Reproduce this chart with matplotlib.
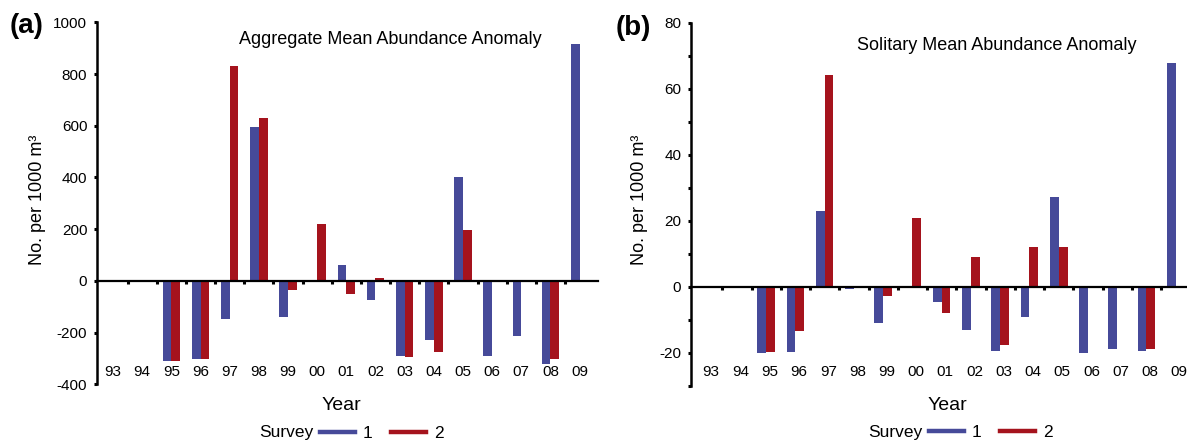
import matplotlib
matplotlib.use("Agg")
import matplotlib.pyplot as plt
import numpy as np
from matplotlib.lines import Line2D
from matplotlib.transforms import blended_transform_factory

plt.rcParams["font.family"] = ["Liberation Sans", "DejaVu Sans"]
plt.rcParams["axes.unicode_minus"] = False

nan = np.nan

# Survey years (two-digit labels)
years = ["93", "94", "95", "96", "97", "98", "99", "00", "01",
         "02", "03", "04", "05", "06", "07", "08", "09"]

# Aggregate mean abundance anomaly (No. per 1000 m3)
agg_survey1 = [nan, nan, -308, -304, -148, 595, -140, nan, 60,
               -73, -290, -228, 403, -290, -214, -322, 918]
agg_survey2 = [nan, nan, -308, -304, 830, 630, -37, 220, -51,
               10, -293, -275, 197, nan, nan, -304, nan]

# Solitary mean abundance anomaly (No. per 1000 m3)
sol_survey1 = [nan, nan, -20.1, -19.8, 23.0, -0.6, -11.0, nan, -4.6,
               -13.1, -19.4, -9.2, 27.2, -19.9, -18.9, -19.4, 67.7]
sol_survey2 = [nan, nan, -19.8, -13.3, 64.3, nan, -2.9, 20.8, -8.0,
               9.1, -17.7, 12.2, 12.0, nan, nan, -18.8, nan]

survey_labels = ["1", "2"]
blue = "#464a99"
red = "#a5131d"

W, H = 1187, 446
fig = plt.figure(figsize=(W / 100, H / 100), dpi=100)


def px(x, y):
    return x / W, 1 - y / H


def panel(rect, s1, s2, ylim, major, minor, xlim, title, title_xy,
          tag, tag_xy, ylab_xy, xlab_xy, lab_y, lab_dx, leg_x, leg_y):
    ax = fig.add_axes(rect)
    x = np.arange(len(years))
    w = 0.3
    ax.bar(x - w / 2, s1, width=w, color=blue, linewidth=0, zorder=2)
    ax.bar(x + w / 2, s2, width=w, color=red, linewidth=0, zorder=2)
    ax.set_xlim(*xlim)
    ax.set_ylim(*ylim)

    for side in ("top", "right"):
        ax.spines[side].set_visible(False)
    ax.spines["left"].set_linewidth(1.8)
    ax.spines["bottom"].set_linewidth(1.6)
    ax.spines["bottom"].set_position(("data", 0))
    ax.spines["bottom"].set_zorder(3)

    # tick marks between years on the zero line
    ax.set_xticks(x[:-1] + 0.5)
    ax.tick_params(axis="x", direction="out", length=2.5, width=2.2,
                   labelbottom=False)
    ax.set_yticks(major)
    ax.set_yticks(minor, minor=True)
    ax.tick_params(axis="y", which="both", direction="out", length=2.5,
                   width=2.2, pad=4.5, labelsize=11)
    ax.tick_params(axis="y", which="minor", labelleft=False)

    trans = blended_transform_factory(ax.transData, ax.transAxes)
    for i, lab in enumerate(years):
        ax.text(i + lab_dx, lab_y, lab, transform=trans, ha="center",
                va="center", fontsize=11, clip_on=False)

    fig.text(*px(*title_xy), title, ha="center", va="center", fontsize=13)
    fig.text(*px(*tag_xy), tag, ha="center", va="center", fontsize=20,
             fontweight="bold")
    fig.text(*px(*ylab_xy), "No. per 1000 m³", rotation=90, ha="center",
             va="center", fontsize=13)
    fig.text(*px(*xlab_xy), "Year", ha="center", va="center", fontsize=14)

    handles = [Line2D([], [], color=blue, lw=3.2),
               Line2D([], [], color=red, lw=3.2)]
    fig.legend(handles, survey_labels, loc="center left",
               bbox_to_anchor=px(leg_x, leg_y), bbox_transform=fig.transFigure,
               ncol=2, frameon=False, fontsize=12.5, borderpad=0,
               borderaxespad=0, handlelength=2.0, handletextpad=0.45,
               columnspacing=1.1)
    fig.text(*px(leg_x - 7, leg_y), "Survey", ha="right", va="center",
             fontsize=12.5)
    return ax


panel([97 / W, 1 - 384.3 / H, (598 - 97) / W, (384.3 - 22.3) / H],
      agg_survey1, agg_survey2, (-400, 1000),
      np.arange(-400, 1001, 200), [], (-0.55, 16.63),
      "Aggregate Mean Abundance Anomaly", (390, 40),
      "(a)", (27, 26), (38, 200), (341, 405), 0.034, 0.0, 320, 433)

panel([691 / W, 1 - 386 / H, (1193.3 - 691) / W, (386 - 22.7) / H],
      sol_survey1, sol_survey2, (-30, 80),
      np.arange(-20, 81, 20), np.arange(-30, 81, 10), (-0.57, 16.6),
      "Solitary Mean Abundance Anomaly", (997, 45),
      "(b)", (633, 28), (640, 200), (947, 405), 0.0385, 0.12, 929, 432)

fig.savefig("out.png", dpi=100)
